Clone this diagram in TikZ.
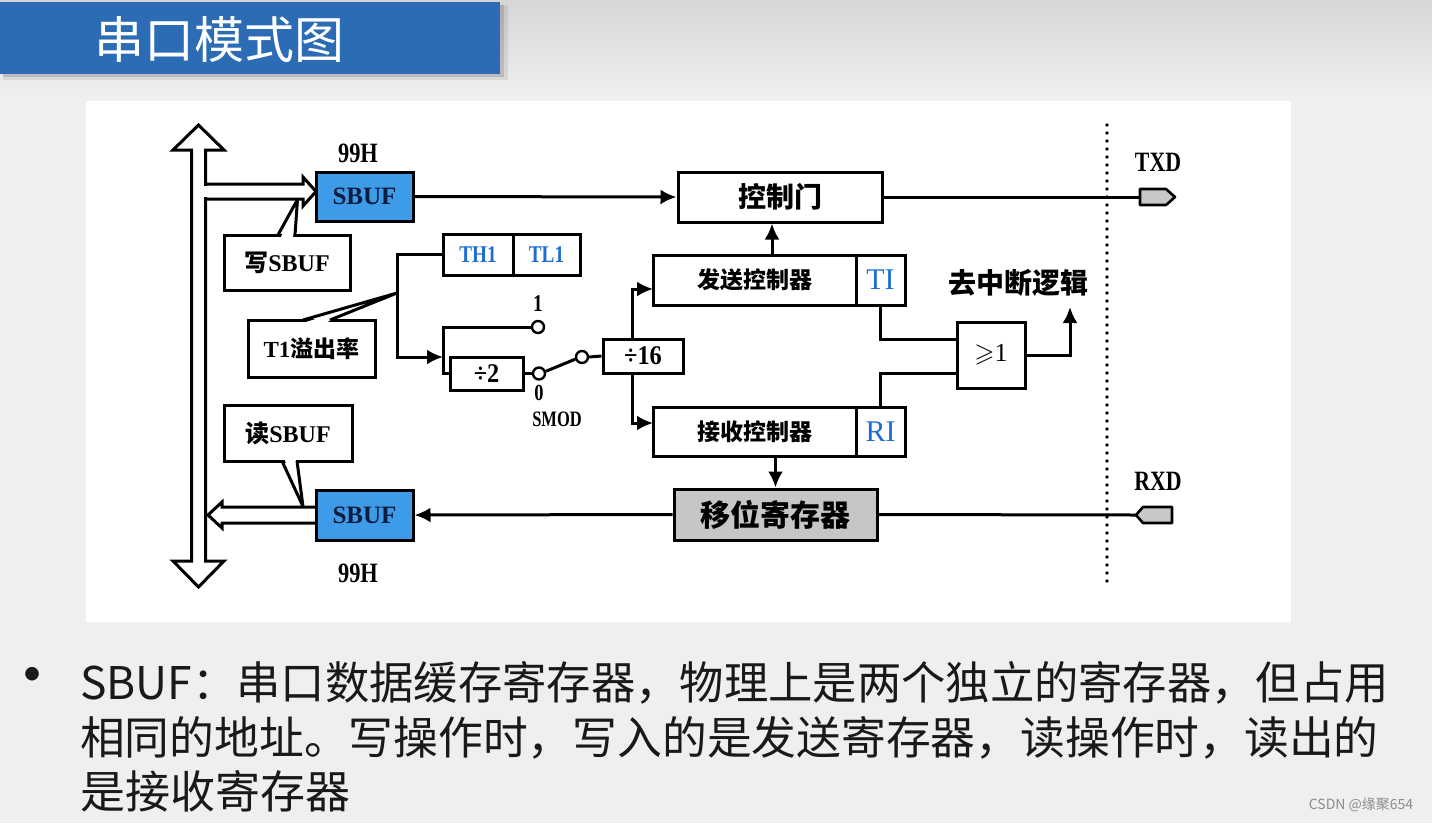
\documentclass[tikz,border=0pt]{standalone}
\usepackage{fontspec}
\usepackage{amssymb}
\setmainfont{Liberation Serif}
\newfontfamily\cjk{Noto Sans CJK SC}
\usetikzlibrary{arrows.meta,calc}
\definecolor{hdr}{RGB}{43,108,181}
\definecolor{sbufblue}{RGB}{62,155,232}
\definecolor{navy}{RGB}{12,28,62}
\definecolor{regblue}{RGB}{30,110,210}
\definecolor{pingray}{RGB}{200,200,200}
\definecolor{shiftgray}{RGB}{198,198,198}
\definecolor{bg}{RGB}{239,239,239}
\newcommand\fsz[1]{\fontsize{#1}{#1}\selectfont}
\newcommand\cond[2]{\scalebox{#1}[1]{#2}}
\tikzset{
  ln/.style={line width=3pt},
  arr/.style={ln, -{Latex[length=16pt,width=15pt]}},
  box/.style={draw, ln, fill=white, inner sep=0pt},
  lab/.style={inner sep=0pt},
  term/.style={circle, draw, line width=2.4pt, fill=white, minimum size=12pt, inner sep=0pt},
  serb/.style={font=\fsz{#1}\bfseries},
  cjkb/.style={font=\cjk\fsz{#1}\bfseries},
  reg/.style={font=\fsz{#1}, text=regblue},
}
\begin{document}
\begin{tikzpicture}[x=1pt,y=-1pt]
\useasboundingbox (0,0) rectangle (1432,823);
% background
\fill[bg] (0,0) rectangle (1432,823);
\shade[top color=black!16, bottom color=bg] (0,0) rectangle (1432,95);
% header
\fill[black, opacity=0.08] (3,5) rectangle (508,80);
\fill[black, opacity=0.12] (3,5) rectangle (504,77);
\fill[hdr] (0,2) rectangle (500,74);
\node[lab, font=\cjk\fsz{50}, text=white] (title) at (219,40) {串口模式图};
% white panel
\fill[white] (86,101) rectangle (1291,622);

% bus (double hollow arrow)
\draw[ln, fill=white, line join=miter]
  (191.5,561) -- (191.5,150) -- (173,150) -- (198.5,125) -- (224,150) -- (205.5,150)
  -- (205.5,561) -- (224,561) -- (198.5,587) -- (173,561) -- cycle;

% write arrow into top SBUF
\fill[white] (203,186) rectangle (304,197);
\draw[ln, line join=miter] (207,184) -- (303,184) -- (303,177) -- (316,191.5) -- (303,206) -- (303,199) -- (207,199);
% read arrow out of bottom SBUF
\fill[white] (222,509) rectangle (316,521);
\draw[ln, line join=miter] (316,507) -- (222,507) -- (222,502) -- (208,515) -- (222,528) -- (222,523) -- (316,523);

% SBUF boxes
\node[box, fill=sbufblue, minimum width=97pt, minimum height=49pt, serb=25, text=navy] (sbufT) at (364.5,196.5) {SBUF};
\node[box, fill=sbufblue, minimum width=97pt, minimum height=50pt, serb=25, text=navy] (sbufB) at (364.5,515) {SBUF};
\node[lab, serb=28] (addrT) at (358,153) {\cond{0.8}{99H}};
\node[lab, serb=28] (addrB) at (358,573) {\cond{0.8}{99H}};

% callouts
\node[box, minimum width=126pt, minimum height=55pt, serb=24] (wsb) at (287,262.5) {{\cjk 写}SBUF};
\fill[white] (280.5,238) -- (297.5,201) -- (293,238) -- cycle;
\draw[ln, line join=round] (278,235) -- (297.5,199.5) -- (295,235);

\node[box, minimum width=128pt, minimum height=56pt, serb=24] (rsb) at (288,433) {{\cjk 读}SBUF};
\fill[white] (284,458) -- (302.5,505) -- (295.5,458) -- cycle;
\draw[ln, line join=round] (282,461) -- (303,506.5) -- (297,461);

\node[box, minimum width=127pt, minimum height=57pt, serb=23] (t1r) at (311.5,348.5) {T1{\cjk 溢出率}};

% TH1 / TL1
\node[box, minimum width=70pt, minimum height=41pt, font=\fsz{24}\bfseries, text=regblue] (th1) at (478,254.5) {\cond{0.8}{TH1}};
\node[box, minimum width=67pt, minimum height=41pt, font=\fsz{24}\bfseries, text=regblue] (tl1) at (546.5,254.5) {\cond{0.8}{TL1}};
\coordinate (jn) at (397,293);
\draw[ln] (th1.west) -| (jn);
\draw[arr] (jn) |- (443,357);
\fill[white] (306,322) -- (395,294.5) -- (327,322) -- cycle;
\draw[ln, line join=round] (303,320) -- (jn) -- (330,320);

% divider and switch
\node[box, minimum width=73pt, minimum height=33pt, font=\fsz{27}\bfseries] (div2) at (486.5,373.5) {\cond{0.9}{÷2}};
\node[box, minimum width=80pt, minimum height=34pt, font=\fsz{27}\bfseries] (div16) at (643,356) {\cond{0.9}{÷16}};
\node[term] (c1) at (538,327) {};
\node[term] (c0) at (539,373.5) {};
\node[term] (cp) at (582,357) {};
\draw[ln] (c1.west) -- (443,327) -- (443,373.5) -- (div2.west);
\draw[ln] (div2.east) -- (c0.west);
\draw[ln] (c0.18) -- (cp.198);
\draw[ln] (cp.east) -- (div16.west);
\node[lab, serb=24] (l1) at (538,304) {\cond{0.8}{1}};
\node[lab, serb=23] (l0) at (539,393) {\cond{0.8}{0}};
\node[lab, serb=22] (smod) at (557,419) {\cond{0.75}{SMOD}};

% controllers
\node[box, minimum width=204pt, minimum height=50pt, cjkb=28] (ctrl) at (780,197) {控制门};
\node[box, minimum width=203pt, minimum height=50pt, cjkb=23] (send) at (754.5,280) {发送控制器};
\node[box, minimum width=49pt, minimum height=50pt, reg=30] (ti) at (880.5,280) {TI};
\node[box, minimum width=203pt, minimum height=49pt, cjkb=23] (recv) at (754.5,431.5) {接收控制器};
\node[box, minimum width=49pt, minimum height=49pt, reg=30] (ri) at (880.5,431.5) {RI};
\node[box, fill=shiftgray, minimum width=203pt, minimum height=51pt, cjkb=30] (shift) at (775.5,514.5) {移位寄存器};

\coordinate (s16t) at (632,339);
\coordinate (s16b) at (632,373);
\draw[arr] (s16t) |- (653,289);
\draw[arr] (s16b) |- (653,423);
\coordinate (cu) at ($(ctrl.south)+(-8,0)$);
\draw[arr] (send.north -| cu) -- (cu);
\draw[arr] (recv.south -| shift.north) -- (shift.north);
\draw[arr] (sbufT.east) -- (ctrl.west);
\draw[arr] (shift.west) -- (sbufB.east);

% OR gate
\node[box, minimum width=68pt, minimum height=66pt, font=\fsz{26}] (gate) at (991,355) {$\geqslant$1};
\coordinate (g1) at ($(gate.west)+(0,-16)$);
\coordinate (g2) at ($(gate.west)+(0,18)$);
\draw[ln] (ti.south) |- (g1);
\draw[ln] (ri.north) |- (g2);
\coordinate (intr) at (1070,307);
\draw[arr] (gate.east) -| (intr);
\node[lab, cjkb=28] (intl) at (1018,283) {去中断逻辑};

% boundary
\draw[line width=3.8pt, dash pattern=on 0pt off 8pt, line cap=round] (1107,125) -- (1107,588);

% pins
\coordinate (txdp) at (1140,197);
\coordinate (rxdp) at (1136,515);
\draw[ln] (ctrl.east) -- (txdp);
\draw[ln] (rxdp) -- (shift.east);
\draw[line width=2.6pt, fill=pingray, line join=round] (txdp) -- ++(0,-8) -- ++(26,0) -- ++(9,8) -- ++(-9,8) -- ++(-26,0) -- cycle;
\draw[line width=2.6pt, fill=pingray, line join=round] (rxdp) -- ++(7,-8) -- ++(29,0) -- ++(0,16) -- ++(-29,0) -- cycle;
\node[lab, serb=28] (txdl) at (1158,162) {\cond{0.78}{TXD}};
\node[lab, serb=28] (rxdl) at (1158,481) {\cond{0.78}{RXD}};

% bottom text
\node[lab, font=\cjk\fsz{64}, text=black!90] (bul) at (32,683) {•};
\node[lab, anchor=west, font=\cjk\fsz{45}, text=black!90] (tx1) at (80,683) {\scalebox{0.985}[1]{SBUF：串口数据缓存寄存器，物理上是两个独立的寄存器，但占用}};
\node[lab, anchor=west, font=\cjk\fsz{45}, text=black!90] (tx2) at (80,738) {\scalebox{0.995}[1]{相同的地址。写操作时，写入的是发送寄存器，读操作时，读出的}};
\node[lab, anchor=west, font=\cjk\fsz{45}, text=black!90] (tx3) at (80,791) {是接收寄存器};
\node[lab, font=\cjk\fsz{14}, text=black!45] (wm) at (1361,805) {CSDN @缘聚654};
\end{tikzpicture}
\end{document}
